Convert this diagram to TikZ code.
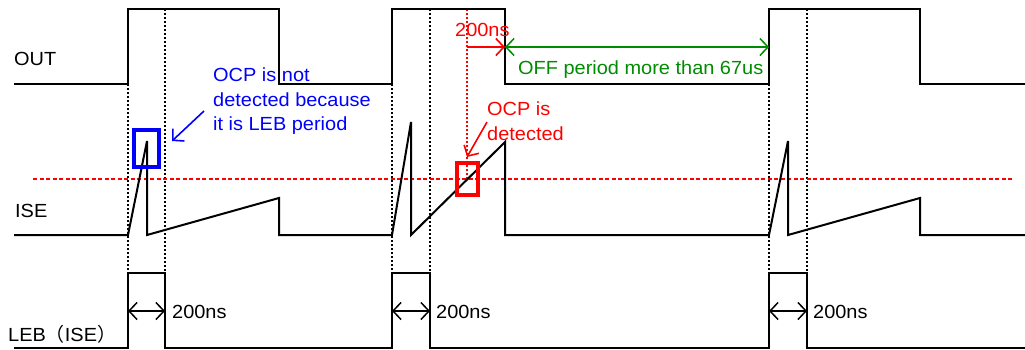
\documentclass[tikz,border=0pt]{standalone}
\usepackage{fontspec}
\setmainfont[FakeStretch=1.05]{Liberation Sans}
\newfontfamily\cjk{Noto Sans CJK JP}
\usetikzlibrary{arrows.meta}
\definecolor{myblue}{RGB}{0,0,255}
\definecolor{myred}{RGB}{255,0,0}
\definecolor{mygreen}{RGB}{0,140,0}
\begin{document}
\begin{tikzpicture}[x=1pt,y=-1pt,
 wave/.style={line width=2pt, line join=miter},
 guide/.style={line width=1.6pt, dash pattern=on 2pt off 2pt},
 thr/.style={myred, line width=1.8pt, dash pattern=on 4pt off 2.5pt},
 lbl/.style={font=\fontsize{19}{22}\selectfont, anchor=base west, inner sep=0pt},
 onearrow/.style={-{Straight Barb[length=8pt,width=17pt]}, line width=1.6pt},
 twoarrow/.style={{Straight Barb[length=8pt,width=17pt]}-{Straight Barb[length=8pt,width=17pt]}, line width=1.5pt},
 ocpbox/.style={line width=4pt}
]
\useasboundingbox (0,0) rectangle (1025,349);
\fill[white] (0,0) rectangle (1025,349);

% guides
\draw[guide] (128,84) -- (128,273);
\draw[guide] (165,9) -- (165,273);
\draw[guide] (392,84) -- (392,273);
\draw[guide] (430,9) -- (430,273);
\draw[guide] (769,84) -- (769,273);
\draw[guide] (807,9) -- (807,273);

% threshold
\draw[thr] (33,179) -- (1013,179);
\draw[myred, line width=1.2pt, dash pattern=on 2pt off 2pt] (467,9) -- (467,179);

% waveforms
\draw[wave] (14,84) -- (128,84) -- (128,9) -- (279,9) -- (279,84) -- (392,84) -- (392,9) -- (505,9) -- (505,84) -- (769,84) -- (769,9) -- (920,9) -- (920,84) -- (1025,84);
\draw[wave] (14,235) -- (128,235) -- (147,141) -- (147,235) -- (279,198) -- (279,235) -- (392,235) -- (411,122) -- (411,235) -- (505,142) -- (505,235) -- (769,235) -- (788,141) -- (788,235) -- (920,198) -- (920,235) -- (1025,235);
\draw[wave] (14,348) -- (128,348) -- (128,273) -- (165,273) -- (165,348) -- (392,348) -- (392,273) -- (430,273) -- (430,348) -- (769,348) -- (769,273) -- (807,273) -- (807,348) -- (1025,348);

% boxes
\draw[ocpbox, myblue] (134,130) rectangle (159,167);
\draw[ocpbox, myred] (457,163) rectangle (478,195);

% labels
\node[lbl] (out) at (14,65) {OUT};
\node[lbl] (ise) at (15,217) {ISE};
\node[lbl] (leb) at (8,341) {LEB{\cjk （}ISE{\cjk ）}};

\node[lbl, myblue] (b1) at (213,81) {OCP is not};
\node[lbl, myblue] (b2) at (213,106) {detected because};
\node[lbl, myblue] (b3) at (213,130) {it is LEB period};

\node[lbl, myred] (r200) at (455,36) {200ns};
\node[lbl, myred] (r1) at (487,115) {OCP is};
\node[lbl, myred] (r2) at (487,140) {detected};

\node[lbl, mygreen] (g) at (518,74) {OFF period more than 67us};

\node[lbl] (t1) at (172,318) {200ns};
\node[lbl] (t2) at (436,318) {200ns};
\node[lbl] (t3) at (813,318) {200ns};

% arrows
\coordinate (ba) at (204,111);
\coordinate (bb) at (172,141);
\draw[onearrow, myblue] (ba) -- (bb);
\coordinate (ra) at (487,122);
\coordinate (rb) at (467,157);
\draw[onearrow, myred] (ra) -- (rb);
\coordinate (d0) at (467,47);
\coordinate (d1) at (505,47);
\coordinate (d2) at (769,47);
\draw[onearrow, myred] (d0) -- (d1);
\draw[twoarrow, mygreen] (d1) -- (d2);
\coordinate (l1a) at (128,311); \coordinate (l1b) at (165,311);
\coordinate (l2a) at (392,311); \coordinate (l2b) at (430,311);
\coordinate (l3a) at (769,311); \coordinate (l3b) at (807,311);
\draw[twoarrow] (l1a) -- (l1b);
\draw[twoarrow] (l2a) -- (l2b);
\draw[twoarrow] (l3a) -- (l3b);
\end{tikzpicture}
\end{document}
